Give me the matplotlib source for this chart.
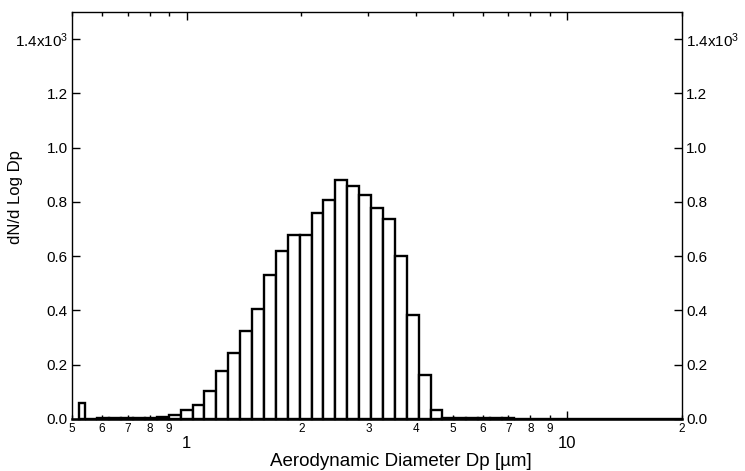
import matplotlib
matplotlib.use("Agg")
import matplotlib.pyplot as plt
import numpy as np
from matplotlib.ticker import FixedLocator

plt.rcParams['font.family'] = ['Liberation Sans', 'DejaVu Sans']
plt.rcParams['mathtext.default'] = 'regular'

# APS channel diameters (µm); each bar spans from one diameter to the next
diameters = [0.523, 0.542, 0.583, 0.626, 0.673, 0.723, 0.777, 0.835, 0.898, 0.965,
             1.037, 1.114, 1.197, 1.286, 1.382, 1.486, 1.596, 1.715, 1.843, 1.981,
             2.129, 2.288, 2.458, 2.642, 2.839, 3.051, 3.278, 3.523, 3.786, 4.068,
             4.371, 4.698, 5.048, 5.425, 5.829, 6.264, 6.732, 7.234, 7.774, 8.354,
             8.977, 9.647, 10.37, 11.14, 11.97, 12.86, 13.82, 14.86, 15.96, 17.15,
             18.43, 19.81, 20.0]
# dN/dlogDp (x10^3) for each channel
dndlogdp = [0.059, 0.000, 0.002, 0.002, 0.003, 0.003, 0.004, 0.007, 0.015, 0.033,
            0.052, 0.105, 0.177, 0.244, 0.325, 0.405, 0.532, 0.618, 0.679, 0.679,
            0.759, 0.807, 0.880, 0.859, 0.827, 0.778, 0.738, 0.600, 0.384, 0.162,
            0.032, 0.004, 0.003, 0.002, 0.002, 0.002, 0.002, 0.001, 0.001, 0.000,
            0.000, 0.000, 0.000, 0.000, 0.000, 0.000, 0.000, 0.000, 0.000, 0.000,
            0.000, 0.000]

yticks = [0.0, 0.2, 0.4, 0.6, 0.8, 1.0, 1.2, 1.4]
ytick_labels = ['0.0', '0.2', '0.4', '0.6', '0.8', '1.0', '1.2', '1.4x10$^{3}$']
major_x = [1, 10]
major_x_labels = ['1', '10']
minor_x = [0.5, 0.6, 0.7, 0.8, 0.9, 2, 3, 4, 5, 6, 7, 8, 9, 20]
minor_x_labels = ['5', '6', '7', '8', '9', '2', '3', '4', '5', '6', '7', '8', '9', '2']

fig = plt.figure(figsize=(7.45, 4.71), dpi=100)
ax = fig.add_axes([72/745, 52/471, 610/745, 407/471])

edges = np.array(diameters)
vals = np.array(dndlogdp)
bars = ax.bar(edges[:-1], vals, width=np.diff(edges), align='edge',
              facecolor='white', edgecolor='black', linewidth=1.7, zorder=2)
for b in bars:
    b.set_clip_on(False)

ax.set_xscale('log')
ax.set_xlim(0.5, 20)
ax.set_ylim(0, 1.5)

ax.xaxis.set_major_locator(FixedLocator(major_x))
ax.set_xticklabels(major_x_labels)
ax.xaxis.set_minor_locator(FixedLocator(minor_x))
ax.set_xticklabels(minor_x_labels, minor=True)

ax.set_yticks(yticks)
ax.set_yticklabels(ytick_labels)

ax.tick_params(axis='x', which='major', direction='in', length=6, width=1,
               top=True, labelsize=12, pad=12)
ax.tick_params(axis='x', which='minor', direction='in', length=3, width=1,
               top=True, labelsize=8.5, pad=3)
ax.tick_params(axis='y', which='major', direction='in', length=6, width=1,
               left=True, right=True, labelleft=True, labelright=True,
               labelsize=11, pad=3)

for s in ax.spines.values():
    s.set_linewidth(1.0)
ax.spines['bottom'].set_linewidth(1.8)

ax.set_xlabel('Aerodynamic Diameter Dp [µm]', fontsize=13.5)
ax.xaxis.set_label_coords(0.539, -0.083, transform=ax.transAxes)
ax.xaxis.label.set_va('top')
ax.set_ylabel('dN/d Log Dp', fontsize=12)
ax.yaxis.set_label_coords(-0.080, 0.545)

fig.savefig('out.png', dpi=100)
